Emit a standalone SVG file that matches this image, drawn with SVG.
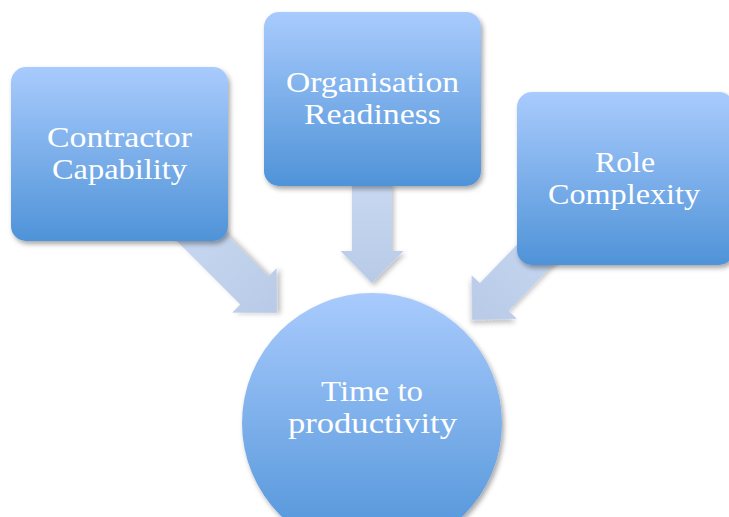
<svg xmlns="http://www.w3.org/2000/svg" width="729" height="517" viewBox="0 0 729 517">
  <defs>
    <linearGradient id="nodeGrad" x1="0" y1="0" x2="0" y2="1">
      <stop offset="0" stop-color="#a9cbfd"/>
      <stop offset="1" stop-color="#4f93d8"/>
    </linearGradient>
    <linearGradient id="arrowGrad" x1="0" y1="0" x2="0" y2="1">
      <stop offset="0" stop-color="#c8d8f1"/>
      <stop offset="1" stop-color="#b8cae7"/>
    </linearGradient>
    <filter id="shadow" x="-20%" y="-20%" width="140%" height="140%">
      <feDropShadow dx="2" dy="3" stdDeviation="2.5" flood-color="#000" flood-opacity="0.35"/>
    </filter>
    <filter id="ashadow" x="-20%" y="-20%" width="140%" height="140%">
      <feDropShadow dx="2" dy="3" stdDeviation="2.5" flood-color="#000" flood-opacity="0.25"/>
    </filter>
  </defs>
  <style>
    .box { fill: url(#nodeGrad); filter: url(#shadow); }
    .arrow { fill: url(#arrowGrad); filter: url(#ashadow); }
    .label { font-family: "Liberation Serif", "DejaVu Serif", serif; font-size: 29px; fill: #ffffff; text-anchor: middle; }
  </style>
  <rect width="729" height="517" fill="#ffffff"/>

  <g id="connectors">
    <path class="arrow" transform="translate(277,313) rotate(-45)" d="M -20,-130 L 20,-130 L 20,-32 L 31.5,-32 L 0,0 L -31.5,-32 L -20,-32 Z"/>
    <path class="arrow" transform="translate(372,283)" d="M -20,-100 L 20,-100 L 20,-32 L 31.5,-32 L 0,0 L -31.5,-32 L -20,-32 Z"/>
    <path class="arrow" transform="translate(472,320) rotate(44)" d="M -20,-130 L 20,-130 L 20,-32 L 31.5,-32 L 0,0 L -31.5,-32 L -20,-32 Z"/>
  </g>

  <g id="node-contractor">
    <rect class="box" x="11" y="67" width="217" height="174" rx="15" ry="15"/>
    <text class="label" x="119.5" y="147" textLength="145" lengthAdjust="spacingAndGlyphs">Contractor</text>
    <text class="label" x="119.5" y="179" textLength="135" lengthAdjust="spacingAndGlyphs">Capability</text>
  </g>

  <g id="node-organisation">
    <rect class="box" x="264" y="12" width="217" height="174" rx="15" ry="15"/>
    <text class="label" x="372.5" y="92" textLength="173" lengthAdjust="spacingAndGlyphs">Organisation</text>
    <text class="label" x="372.5" y="124" textLength="137" lengthAdjust="spacingAndGlyphs">Readiness</text>
  </g>

  <g id="node-role">
    <rect class="box" x="517" y="92" width="217" height="173" rx="15" ry="15"/>
    <text class="label" x="625" y="172" textLength="60" lengthAdjust="spacingAndGlyphs">Role</text>
    <text class="label" x="624" y="204" textLength="152" lengthAdjust="spacingAndGlyphs">Complexity</text>
  </g>

  <g id="node-time">
    <circle class="box" cx="372" cy="423" r="130"/>
    <text class="label" x="372" y="401" textLength="102" lengthAdjust="spacingAndGlyphs">Time to</text>
    <text class="label" x="372.5" y="433" textLength="169" lengthAdjust="spacingAndGlyphs">productivity</text>
  </g>
</svg>
